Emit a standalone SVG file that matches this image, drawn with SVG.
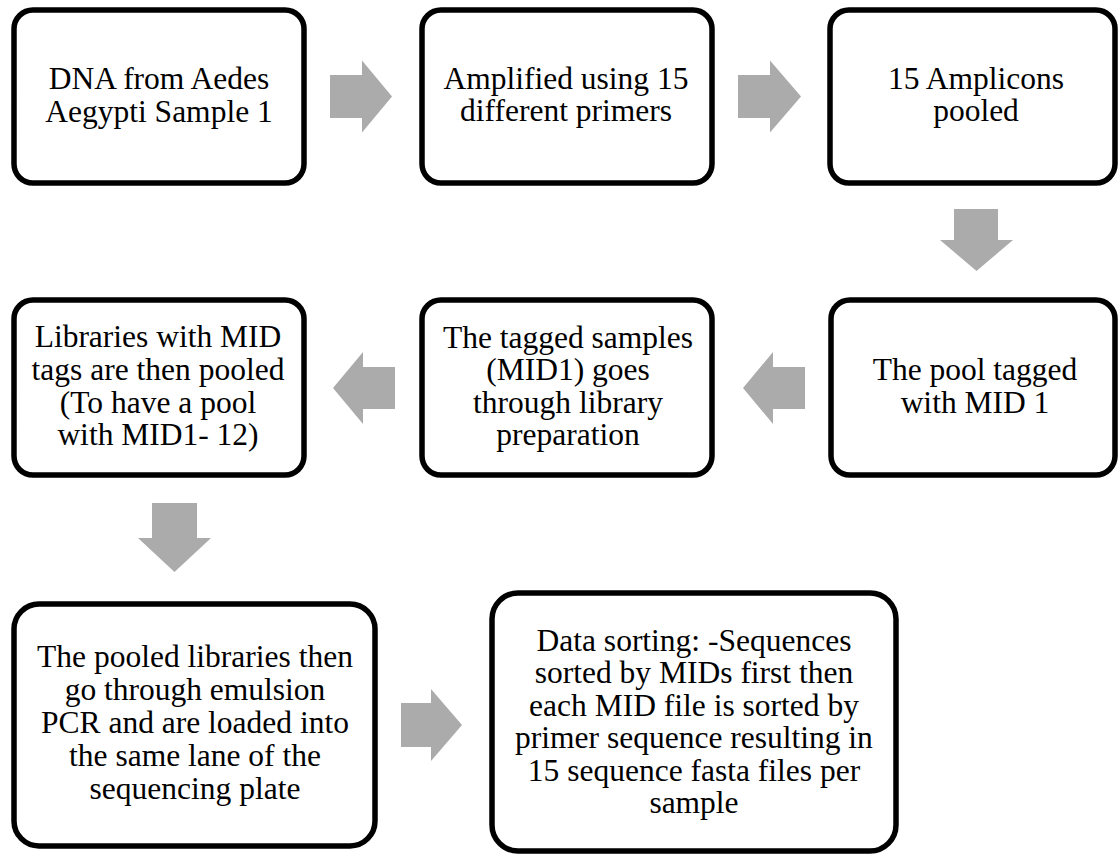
<svg xmlns="http://www.w3.org/2000/svg" width="1120" height="856" viewBox="0 0 1120 856">
<style>
.box{fill:#ffffff;stroke:#000000;stroke-width:5.5}
.arr{fill:#ababab;stroke:none}
text{font-size:31.5px;fill:#000000;text-anchor:middle}
</style>
<rect width="1120" height="856" fill="#ffffff"/>
<g id="connectors">
<polygon class="arr" points="330,75 362,75 362,60.5 392,96.5 362,132.5 362,118 330,118"/>
<polygon class="arr" points="738,75 770,75 770,60.5 801,96.5 770,132.5 770,118 738,118"/>
<polygon class="arr" points="954,209 998,209 998,240 1013,240 976.5,271 940,240 954,240"/>
<polygon class="arr" points="805,367 773,367 773,352 743,388 773,424 773,409 805,409"/>
<polygon class="arr" points="395,367 363,367 363,352 333,388 363,424 363,409 395,409"/>
<polygon class="arr" points="152,503 197,503 197,538 211,538 174.5,572 138,538 152,538"/>
<polygon class="arr" points="401,703 431,703 431,689 462,725 431,761 431,747 401,747"/>
</g>
<g id="n1" font-family="Liberation Serif">
<rect class="box" x="14" y="10" width="290" height="173" rx="19"/>
<text font-family="Liberation Serif" x="159" y="89">DNA from Aedes</text>
<text font-family="Liberation Serif" x="159" y="122">Aegypti Sample 1</text>
</g>
<g id="n2" font-family="Liberation Serif">
<rect class="box" x="422" y="10" width="290" height="173" rx="19"/>
<text font-family="Liberation Serif" x="566" y="89">Amplified using 15</text>
<text font-family="Liberation Serif" x="566" y="121">different primers</text>
</g>
<g id="n3" font-family="Liberation Serif">
<rect class="box" x="830" y="10" width="285" height="173" rx="19"/>
<text font-family="Liberation Serif" x="976" y="89">15 Amplicons</text>
<text font-family="Liberation Serif" x="976" y="121">pooled</text>
</g>
<g id="n4" font-family="Liberation Serif">
<rect class="box" x="831" y="300" width="284" height="175" rx="19"/>
<text font-family="Liberation Serif" x="975" y="380">The pool tagged</text>
<text font-family="Liberation Serif" x="975" y="413">with MID 1</text>
</g>
<g id="n5" font-family="Liberation Serif">
<rect class="box" x="422" y="300" width="290" height="175" rx="19"/>
<text font-family="Liberation Serif" x="568" y="348">The tagged samples</text>
<text font-family="Liberation Serif" x="568" y="380">(MID1) goes</text>
<text font-family="Liberation Serif" x="568" y="413">through library</text>
<text font-family="Liberation Serif" x="568" y="445">preparation</text>
</g>
<g id="n6" font-family="Liberation Serif">
<rect class="box" x="14" y="300" width="290" height="175" rx="19"/>
<text font-family="Liberation Serif" x="158" y="347">Libraries with MID</text>
<text font-family="Liberation Serif" x="158" y="380">tags are then pooled</text>
<text font-family="Liberation Serif" x="158" y="413">(To have a pool</text>
<text font-family="Liberation Serif" x="158" y="445">with MID1- 12)</text>
</g>
<g id="n7" font-family="Liberation Serif">
<rect class="box" x="14" y="604" width="361" height="242" rx="25"/>
<text font-family="Liberation Serif" x="195" y="667">The pooled libraries then</text>
<text font-family="Liberation Serif" x="195" y="700">go through emulsion</text>
<text font-family="Liberation Serif" x="195" y="733">PCR and are loaded into</text>
<text font-family="Liberation Serif" x="195" y="766">the same lane of the</text>
<text font-family="Liberation Serif" x="195" y="799">sequencing plate</text>
</g>
<g id="n8" font-family="Liberation Serif">
<rect class="box" x="492" y="593" width="404" height="258" rx="26"/>
<text font-family="Liberation Serif" x="694" y="651">Data sorting: -Sequences</text>
<text font-family="Liberation Serif" x="694" y="683">sorted by MIDs first then</text>
<text font-family="Liberation Serif" x="694" y="716">each MID file is sorted by</text>
<text font-family="Liberation Serif" x="694" y="748">primer sequence resulting in</text>
<text font-family="Liberation Serif" x="694" y="781">15 sequence fasta files per</text>
<text font-family="Liberation Serif" x="694" y="813">sample</text>
</g>
</svg>
